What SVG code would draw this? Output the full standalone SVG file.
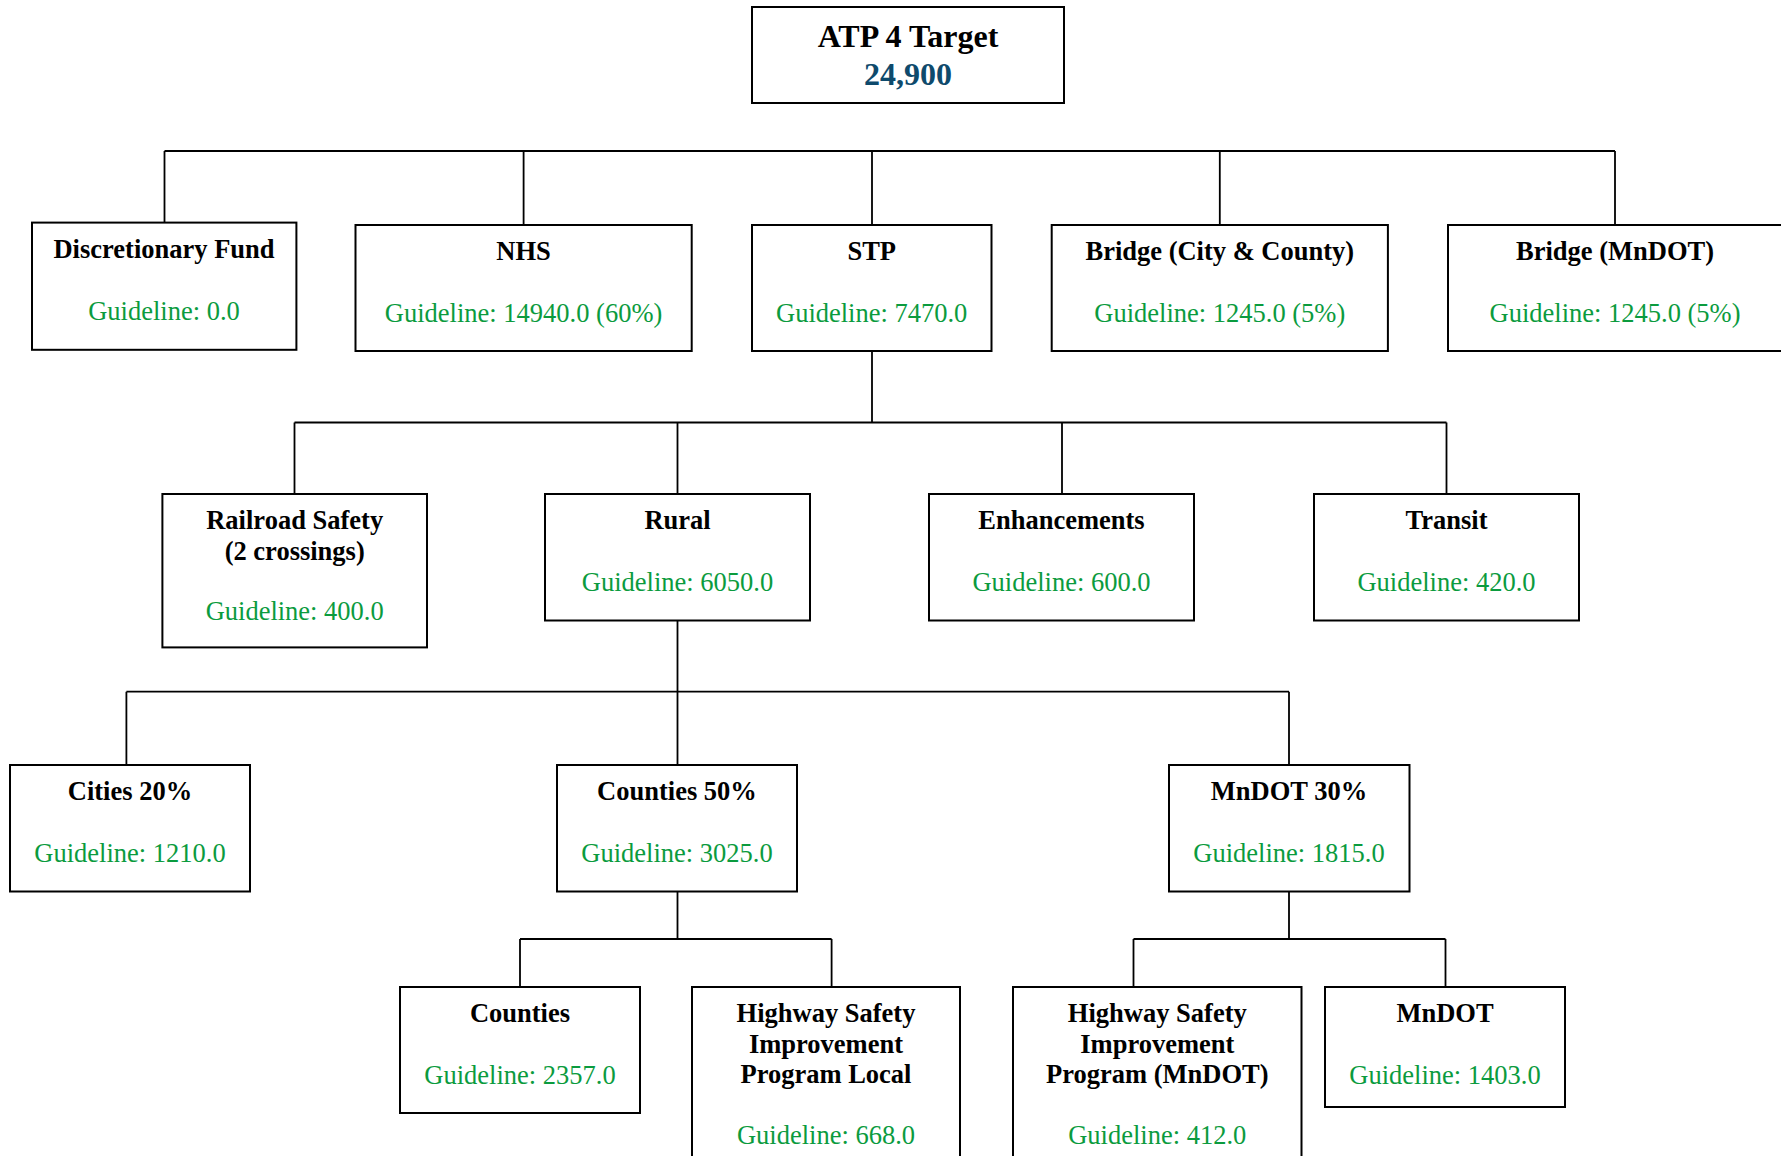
<svg xmlns="http://www.w3.org/2000/svg" width="1781" height="1156" viewBox="0 0 1781 1156">
<style>
  .box { fill: #ffffff; stroke: #000000; stroke-width: 2; }
  .conn { fill: none; stroke: #000000; stroke-width: 1.8; }
  .t { font-family: "Liberation Serif", "Times New Roman", serif; font-size: 26.5px; font-weight: bold; fill: #000000; text-anchor: middle; }
  .g { font-family: "Liberation Serif", "Times New Roman", serif; font-size: 26.5px; fill: #0b9b3e; text-anchor: middle; }
  .rt { font-family: "Liberation Serif", "Times New Roman", serif; font-size: 32px; font-weight: bold; fill: #000000; text-anchor: middle; }
  .rv { font-family: "Liberation Serif", "Times New Roman", serif; font-size: 32px; font-weight: bold; fill: #0e4a6c; text-anchor: middle; }
</style>
<rect x="0" y="0" width="1781" height="1156" fill="#ffffff"/>
<g id="connectors">
  <path class="conn" d="M164.5,151 H1615 M164.5,151 V222.6 M523.6,151 V225 M872,151 V225 M1219.8,151 V225 M1615,151 V225"/>
  <path class="conn" d="M872,351 V422.5 M294.5,422.5 H1446.5 M294.5,422.5 V494 M677.5,422.5 V494 M1062,422.5 V494 M1446.5,422.5 V494"/>
  <path class="conn" d="M677.5,620.5 V691.7 M126.4,691.7 H1289 M126.4,691.7 V765 M677.5,691.7 V765 M1289,691.7 V765"/>
  <path class="conn" d="M677.5,891.5 V939 M520,939 H831.6 M520,939 V987 M831.6,939 V987"/>
  <path class="conn" d="M1289,891.5 V939 M1133.5,939 H1445.5 M1133.5,939 V987 M1445.5,939 V987"/>
</g>
<g id="root">
  <rect class="box" x="752" y="7" width="312" height="96"/>
  <text class="rt" x="908" y="47">ATP 4 Target</text>
  <text class="rv" x="908" y="85">24,900</text>
</g>
<g id="discretionary">
  <rect class="box" x="32" y="222.6" width="264.4" height="127.2"/>
  <text class="t" x="164" y="258">Discretionary Fund</text>
  <text class="g" x="164" y="319.5">Guideline: 0.0</text>
</g>
<g id="nhs">
  <rect class="box" x="355.5" y="225" width="336.2" height="126"/>
  <text class="t" x="523.6" y="260">NHS</text>
  <text class="g" x="523.6" y="322">Guideline: 14940.0 (60%)</text>
</g>
<g id="stp">
  <rect class="box" x="752" y="225" width="239.5" height="126"/>
  <text class="t" x="871.7" y="260">STP</text>
  <text class="g" x="871.7" y="322">Guideline: 7470.0</text>
</g>
<g id="bridge-city">
  <rect class="box" x="1051.7" y="225" width="336.2" height="126"/>
  <text class="t" x="1219.8" y="260">Bridge (City &amp; County)</text>
  <text class="g" x="1219.8" y="322">Guideline: 1245.0 (5%)</text>
</g>
<g id="bridge-mndot">
  <rect class="box" x="1448" y="225" width="336" height="126"/>
  <text class="t" x="1615" y="260">Bridge (MnDOT)</text>
  <text class="g" x="1615" y="322">Guideline: 1245.0 (5%)</text>
</g>
<g id="railroad">
  <rect class="box" x="162.4" y="494" width="264.6" height="153.4"/>
  <text class="t" x="294.7" y="529">Railroad Safety</text>
  <text class="t" x="294.7" y="559.5">(2 crossings)</text>
  <text class="g" x="294.7" y="620">Guideline: 400.0</text>
</g>
<g id="rural">
  <rect class="box" x="545" y="494" width="265" height="126.5"/>
  <text class="t" x="677.5" y="529">Rural</text>
  <text class="g" x="677.5" y="591">Guideline: 6050.0</text>
</g>
<g id="enhancements">
  <rect class="box" x="929" y="494" width="265" height="126.5"/>
  <text class="t" x="1061.5" y="529">Enhancements</text>
  <text class="g" x="1061.5" y="591">Guideline: 600.0</text>
</g>
<g id="transit">
  <rect class="box" x="1314" y="494" width="265" height="126.5"/>
  <text class="t" x="1446.5" y="529">Transit</text>
  <text class="g" x="1446.5" y="591">Guideline: 420.0</text>
</g>
<g id="cities">
  <rect class="box" x="10" y="765" width="240" height="126.5"/>
  <text class="t" x="130" y="800">Cities 20%</text>
  <text class="g" x="130" y="862">Guideline: 1210.0</text>
</g>
<g id="counties50">
  <rect class="box" x="557" y="765" width="240" height="126.5"/>
  <text class="t" x="677" y="800">Counties 50%</text>
  <text class="g" x="677" y="862">Guideline: 3025.0</text>
</g>
<g id="mndot30">
  <rect class="box" x="1169" y="765" width="240.5" height="126.5"/>
  <text class="t" x="1289" y="800">MnDOT 30%</text>
  <text class="g" x="1289" y="862">Guideline: 1815.0</text>
</g>
<g id="counties">
  <rect class="box" x="400" y="987" width="240" height="126"/>
  <text class="t" x="520" y="1022">Counties</text>
  <text class="g" x="520" y="1084">Guideline: 2357.0</text>
</g>
<g id="hsip-local">
  <rect class="box" x="692" y="987" width="268" height="190"/>
  <text class="t" x="826" y="1022">Highway Safety</text>
  <text class="t" x="826" y="1052.5">Improvement</text>
  <text class="t" x="826" y="1083">Program Local</text>
  <text class="g" x="826" y="1144">Guideline: 668.0</text>
</g>
<g id="hsip-mndot">
  <rect class="box" x="1013" y="987" width="288.5" height="190"/>
  <text class="t" x="1157.3" y="1022">Highway Safety</text>
  <text class="t" x="1157.3" y="1052.5">Improvement</text>
  <text class="t" x="1157.3" y="1083">Program (MnDOT)</text>
  <text class="g" x="1157.3" y="1144">Guideline: 412.0</text>
</g>
<g id="mndot">
  <rect class="box" x="1325" y="987" width="240" height="120"/>
  <text class="t" x="1445" y="1022">MnDOT</text>
  <text class="g" x="1445" y="1084">Guideline: 1403.0</text>
</g>
</svg>
